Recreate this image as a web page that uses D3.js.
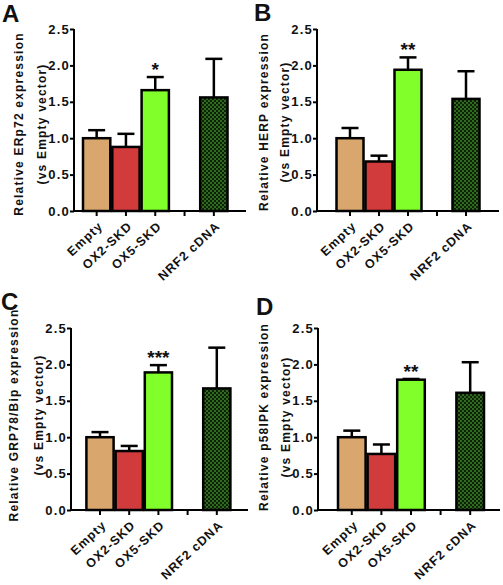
<!DOCTYPE html>
<html><head><meta charset="utf-8">
<script src="https://cdn.jsdelivr.net/npm/d3@7"></script>
<style>body{margin:0;background:#fff}svg{display:block}text{font-family:"Liberation Sans",Arial,sans-serif;font-weight:bold;fill:#111}</style>
</head><body>
<script>
const categories = ["Empty","OX2-SKD","OX5-SKD","","NRF2 cDNA"];
const barColors = ["#D9A66E","#D13B3B","#80FF2A",null,"url(#chk)"];
const yTicks = [0,0.5,1.0,1.5,2.0,2.5];
const panelLetters = ["A","B","C","D"];
const yLabels = ["Relative ERp72 expression","Relative HERP expression","Relative GRP78/Bip expression","Relative p58IPK expression"];
const yLabel2 = "(vs Empty vector)";
const meansA = [1.00,0.88,1.66,null,1.56];
const errA   = [1.11,1.06,1.84,null,2.09];
const meansB = [1.00,0.68,1.94,null,1.54];
const errB   = [1.14,0.76,2.11,null,1.92];
const meansC = [1.00,0.81,1.89,null,1.67];
const errC   = [1.07,0.88,1.99,null,2.23];
const meansD = [1.00,0.77,1.79,null,1.61];
const errD   = [1.09,0.90,1.80,null,2.03];
const stars = ["*","**","***","**"];

const W=503,H=585;
const svg=d3.select("body").append("svg").attr("width",W).attr("height",H);
const defs=svg.append("defs");
const pat=defs.append("pattern").attr("id","chk").attr("patternUnits","userSpaceOnUse").attr("width",4).attr("height",4);
pat.append("rect").attr("width",4).attr("height",4).attr("fill","#0e2208");
pat.append("rect").attr("width",2).attr("height",2).attr("fill","#2f6a1f");
pat.append("rect").attr("x",2).attr("y",2).attr("width",2).attr("height",2).attr("fill","#2f6a1f");

const layouts=[
 {means:meansA,err:errA,ax:74,yT:29,yB:211,b0:82,b1:228.5,xEnd:246,lx:[22.5,45.5],ly:4,let:[2,22]},
 {means:meansB,err:errB,ax:317,yT:29,yB:211,b0:335.5,b1:480.5,xEnd:499,lx:[267.5,289],ly:2,let:[254,21]},
 {means:meansC,err:errC,ax:71,yT:328,yB:510,b0:85.4,b1:231.4,xEnd:248,lx:[18,42.5],ly:-4,let:[1,310]},
 {means:meansD,err:errD,ax:318,yT:328,yB:510,b0:337,b1:485,xEnd:500,lx:[268,289.5],ly:-2,let:[256,315]}
];

layouts.forEach((L,pi)=>{
  const g=svg.append("g");
  const y=d3.scaleLinear().domain([0,2.5]).range([L.yB,L.yT]);
  const x=d3.scaleBand().domain(d3.range(categories.length)).range([L.b0,L.b1]).paddingInner(0);
  const bw=x.bandwidth();
  categories.forEach((c,i)=>{
    if(L.means[i]==null) return;
    const cx=x(i)+bw/2;
    g.append("line").attr("x1",cx).attr("x2",cx).attr("y1",y(L.means[i])).attr("y2",y(L.err[i])).attr("stroke","#000").attr("stroke-width",2.5);
    g.append("line").attr("x1",cx-8.5).attr("x2",cx+8.5).attr("y1",y(L.err[i])).attr("y2",y(L.err[i])).attr("stroke","#000").attr("stroke-width",2.5);
    g.append("rect").attr("x",x(i)+1).attr("y",y(L.means[i])).attr("width",bw-2).attr("height",y(0)-y(L.means[i]))
      .attr("fill",barColors[i]).attr("stroke","#000").attr("stroke-width",2.5);
  });
  const si=2;
  g.append("text").attr("x",x(si)+bw/2).attr("y",y(L.err[si])-1).attr("text-anchor","middle").attr("font-size",19).text(stars[pi]);
  const ya=g.append("g").attr("transform",`translate(${L.ax},0)`).call(d3.axisLeft(y).tickValues(yTicks).tickFormat(d3.format(".1f")).tickSize(4).tickPadding(0));
  ya.attr("font-family",null).attr("font-size",null);
  ya.select(".domain").attr("stroke","#000").attr("stroke-width",2).attr("d",`M0,${L.yT}V${L.yB}`);
  ya.selectAll(".tick line").attr("stroke","#000").attr("stroke-width",2);
  ya.selectAll(".tick text").attr("font-size",13).attr("letter-spacing",1.2).attr("fill","#111");
  const xa=g.append("g").attr("transform",`translate(0,${L.yB})`);
  xa.append("line").attr("x1",L.ax).attr("x2",L.xEnd).attr("y1",0).attr("y2",0).attr("stroke","#000").attr("stroke-width",2);
  categories.forEach((c,i)=>{
    const cx=x(i)+bw/2;
    xa.append("line").attr("x1",cx).attr("x2",cx).attr("y1",0).attr("y2",5).attr("stroke","#000").attr("stroke-width",2);
    if(c) xa.append("text").attr("transform",`translate(${cx+4},${13}) rotate(-43)`).attr("text-anchor","end").attr("dy","0.35em")
      .attr("font-size",12.5).attr("letter-spacing",1).text(c);
  });
  const ym=(L.yT+L.yB)/2+L.ly;
  g.append("text").attr("transform",`translate(${L.lx[0]},${ym}) rotate(-90)`).attr("text-anchor","middle").attr("font-size",12).attr("letter-spacing",1.2).text(yLabels[pi]);
  g.append("text").attr("transform",`translate(${L.lx[1]},${ym}) rotate(-90)`).attr("text-anchor","middle").attr("font-size",12).attr("letter-spacing",1.2).text(yLabel2);
  g.append("text").attr("x",L.let[0]).attr("y",L.let[1]).attr("font-size",24).text(panelLetters[pi]);
});
</script>
</body></html>
